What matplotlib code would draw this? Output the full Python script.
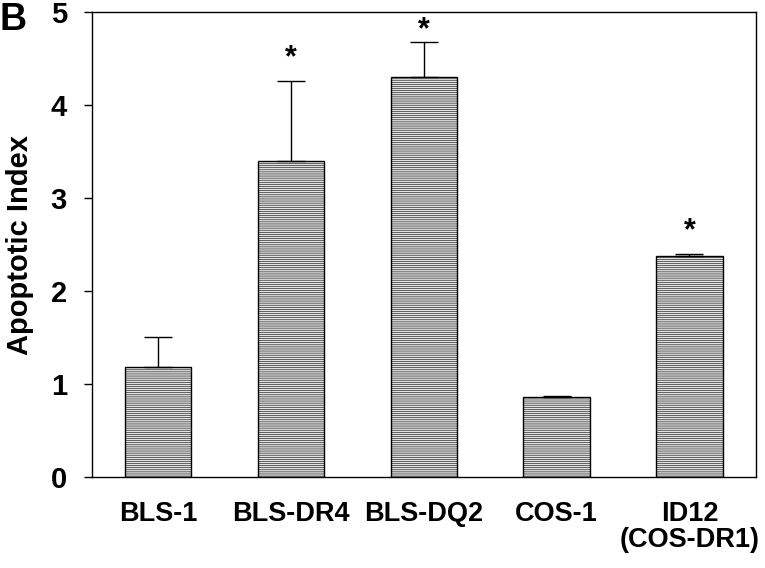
import numpy as np
import matplotlib
matplotlib.use("Agg")
import matplotlib.pyplot as plt

plt.rcParams['font.family'] = ['Liberation Sans', 'DejaVu Sans']
plt.rcParams['hatch.linewidth'] = 0.4
plt.rcParams['hatch.color'] = '#b4b4b4'

# data
groups = ["BLS-1", "BLS-DR4", "BLS-DQ2", "COS-1", "ID12\n(COS-DR1)"]
apoptotic_index = [1.18, 3.40, 4.30, 0.86, 2.38]
sem = [0.33, 0.86, 0.38, 0.01, 0.02]
significant = [False, True, True, False, True]

fig = plt.figure(figsize=(7.65, 5.68), dpi=100)
ax = fig.add_axes([0.120, 0.160, 0.868, 0.819])

x = np.arange(len(groups))
ax.bar(x, apoptotic_index, width=0.5, color='#e2e2e2', edgecolor='black',
       linewidth=1.0, hatch='--------', zorder=2)
ax.errorbar(x, apoptotic_index, yerr=[np.zeros(len(sem)), sem], fmt='none',
            ecolor='black', elinewidth=1.0, capsize=10, capthick=1.0, zorder=3)

# significance marks above the error bars (kept inside the frame)
for xi, v, e, s in zip(x, apoptotic_index, sem, significant):
    if s:
        ax.text(xi, min(v + e + 0.24, 4.80), '*', ha='center', va='center',
                fontsize=22, fontweight='bold')

ax.set_xlim(-0.5, 4.5)
ax.set_ylim(0, 5)
ax.set_yticks(range(0, 6))
ax.set_xticks(x)
ax.set_xticklabels(groups, fontsize=19.5, fontweight='bold', linespacing=1.0)
ax.tick_params(axis='x', length=0, pad=17)
ax.tick_params(axis='y', length=6, width=1, pad=12, labelsize=21)
for lab in ax.get_yticklabels():
    lab.set_fontweight('bold')
for sp in ax.spines.values():
    sp.set_linewidth(1.0)

ax.set_ylabel("Apoptotic Index", fontsize=21, fontweight='bold', labelpad=12)
fig.text(0.0, 0.996, "B", fontsize=27, fontweight='bold', ha='left', va='top')

fig.savefig("out.png", dpi=100)
